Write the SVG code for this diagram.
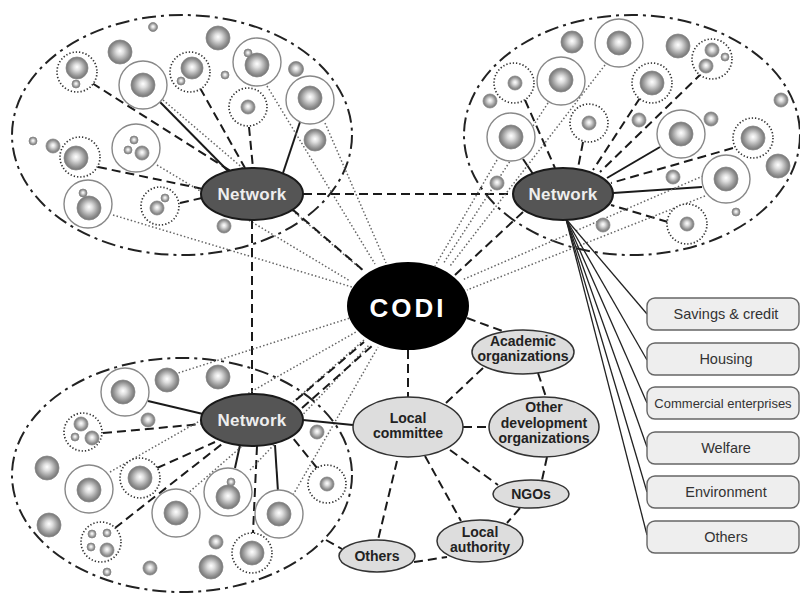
<svg xmlns="http://www.w3.org/2000/svg" width="800" height="595" viewBox="0 0 800 595">
<defs>
<radialGradient id="g" cx="0.5" cy="0.5" r="0.5" fx="0.5" fy="0.45">
<stop offset="0" stop-color="#ffffff"/>
<stop offset="0.3" stop-color="#dedede"/>
<stop offset="0.75" stop-color="#969696"/>
<stop offset="1" stop-color="#747474"/>
</radialGradient>
<style>
.bound{fill:none;stroke:#222;stroke-width:2;stroke-dasharray:14 5 3 5}
.sl{stroke:#1a1a1a;stroke-width:2;fill:none}
.dl{stroke:#1a1a1a;stroke-width:2;stroke-dasharray:9 5;fill:none}
.ol{stroke:#666;stroke-width:1.5;stroke-dasharray:1.5 2.2;fill:none}
.bl{stroke:#222;stroke-width:1.3;fill:none}
.s{fill:url(#g);stroke:#888;stroke-width:0.8}
.r{fill:#fff;stroke:#888;stroke-width:1.4}
.d{fill:#fff;stroke:#333;stroke-width:1.7;stroke-dasharray:1.3 2}
.net{fill:#555;stroke:#1a1a1a;stroke-width:2}
.nt{font-family:"Liberation Sans",Arial,sans-serif;font-weight:bold;font-size:17px;fill:#eee;text-anchor:middle;letter-spacing:0.3px}
.lab{fill:#ddd;stroke:#333;stroke-width:1.5}
.lt{font-family:"Liberation Sans",Arial,sans-serif;font-weight:bold;font-size:14px;fill:#222;text-anchor:middle}
.box{fill:#eee;stroke:#666;stroke-width:1.4}
.bt{font-family:"Liberation Sans",Arial,sans-serif;font-size:14.5px;fill:#333;text-anchor:middle}
</style>
</defs>
<rect width="800" height="595" fill="#fff"/>

<g id="boundaries">
<ellipse class="bound" cx="182" cy="135" rx="170" ry="120"/>
<ellipse class="bound" cx="632" cy="135" rx="168" ry="120"/>
<ellipse class="bound" cx="182" cy="475" rx="170" ry="117"/>
</g>

<g id="connectors">
<line class="sl" x1="160" y1="102" x2="228" y2="171"/>
<line class="sl" x1="300" y1="122" x2="283" y2="173"/>
<line class="dl" x1="92" y1="83" x2="232" y2="172"/>
<line class="dl" x1="200" y1="88" x2="245" y2="168"/>
<line class="dl" x1="249" y1="127" x2="253" y2="168"/>
<line class="dl" x1="98" y1="167" x2="203" y2="189"/>
<line class="dl" x1="180" y1="203" x2="202" y2="198"/>
<line class="ol" x1="267" y1="86" x2="375" y2="264"/>
<line class="ol" x1="325" y1="123" x2="386" y2="263"/>
<line class="ol" x1="113" y1="215" x2="352" y2="287"/>
<line class="ol" x1="163" y1="100" x2="362" y2="270"/>
<line class="ol" x1="157" y1="165" x2="350" y2="281"/>
<line class="dl" x1="292" y1="209" x2="364" y2="271"/>
<line class="dl" x1="303" y1="194" x2="513" y2="194"/>
<line class="dl" x1="252" y1="220" x2="252" y2="394"/>
<line class="sl" x1="523" y1="159" x2="533" y2="174"/>
<line class="sl" x1="660" y1="147" x2="607" y2="178"/>
<line class="sl" x1="702" y1="187" x2="613" y2="193"/>
<line class="dl" x1="525" y1="100" x2="555" y2="168"/>
<line class="dl" x1="583" y1="142" x2="578" y2="168"/>
<line class="dl" x1="640" y1="98" x2="593" y2="170"/>
<line class="dl" x1="702" y1="73" x2="600" y2="172"/>
<line class="dl" x1="733" y1="148" x2="611" y2="183"/>
<line class="dl" x1="668" y1="222" x2="611" y2="205"/>
<line class="ol" x1="605" y1="65" x2="450" y2="266"/>
<line class="ol" x1="548" y1="103" x2="443" y2="264"/>
<line class="ol" x1="497" y1="160" x2="435" y2="266"/>
<line class="ol" x1="703" y1="176" x2="462" y2="280"/>
<line class="ol" x1="705" y1="196" x2="467" y2="290"/>
<line class="dl" x1="523" y1="212" x2="455" y2="275"/>
<line class="sl" x1="148" y1="401" x2="203" y2="414"/>
<line class="sl" x1="235" y1="468" x2="240" y2="445"/>
<line class="sl" x1="278" y1="492" x2="275" y2="445"/>
<line class="dl" x1="103" y1="433" x2="202" y2="424"/>
<line class="dl" x1="157" y1="468" x2="215" y2="442"/>
<line class="dl" x1="115" y1="528" x2="222" y2="444"/>
<line class="dl" x1="257" y1="446" x2="253" y2="533"/>
<line class="dl" x1="317" y1="468" x2="292" y2="437"/>
<line class="ol" x1="175" y1="374" x2="350" y2="318"/>
<line class="ol" x1="110" y1="472" x2="356" y2="332"/>
<line class="ol" x1="187" y1="494" x2="364" y2="340"/>
<line class="ol" x1="293" y1="495" x2="378" y2="347"/>
<line class="ol" x1="250" y1="470" x2="370" y2="344"/>
<line class="dl" x1="296" y1="400" x2="364" y2="342"/>
<line class="dl" x1="302" y1="408" x2="372" y2="346"/>
<line class="sl" x1="303" y1="420" x2="353" y2="425"/>
<line class="dl" x1="408" y1="350" x2="408" y2="397"/>
<line class="dl" x1="467" y1="318" x2="505" y2="332"/>
<line class="dl" x1="446" y1="403" x2="484" y2="367"/>
<line class="dl" x1="538" y1="373" x2="546" y2="397"/>
<line class="dl" x1="463" y1="427" x2="489" y2="427"/>
<line class="dl" x1="547" y1="457" x2="542" y2="480"/>
<line class="dl" x1="450" y1="450" x2="498" y2="485"/>
<line class="dl" x1="520" y1="508" x2="507" y2="523"/>
<line class="dl" x1="425" y1="456" x2="461" y2="521"/>
<line class="dl" x1="397" y1="461" x2="378" y2="540"/>
<line class="dl" x1="414" y1="562" x2="447" y2="557"/>
<line class="dl" x1="326" y1="540" x2="342" y2="549"/>
<line class="bl" x1="566" y1="219" x2="647" y2="314"/>
<line class="bl" x1="566" y1="219" x2="647" y2="360"/>
<line class="bl" x1="566" y1="219" x2="647" y2="403"/>
<line class="bl" x1="566" y1="219" x2="647" y2="447"/>
<line class="bl" x1="566" y1="219" x2="647" y2="492"/>
<line class="bl" x1="566" y1="219" x2="647" y2="535"/>
</g>

<g id="cluster-tl">
<circle class="s" cx="153" cy="27" r="4.5"/>
<circle class="s" cx="120" cy="52" r="12"/>
<circle class="s" cx="218" cy="38" r="12"/>
<circle class="d" cx="77" cy="72" r="20"/><circle class="s" cx="77" cy="68" r="11"/><circle class="s" cx="76" cy="84" r="4"/>
<circle class="r" cx="143" cy="85" r="24"/><circle class="s" cx="143" cy="85" r="12"/>
<circle class="d" cx="190" cy="72" r="20"/><circle class="s" cx="192" cy="68" r="11"/><circle class="s" cx="181" cy="81" r="4"/>
<circle class="r" cx="257" cy="62" r="24"/><circle class="s" cx="257" cy="65" r="12"/><circle class="s" cx="248" cy="53" r="4"/>
<circle class="s" cx="225" cy="75" r="4"/>
<circle class="s" cx="296" cy="69" r="7.5"/>
<circle class="d" cx="248" cy="107" r="19"/><circle class="s" cx="248" cy="107" r="7"/>
<circle class="r" cx="310" cy="100" r="24"/><circle class="s" cx="310" cy="98" r="12"/>
<circle class="s" cx="315" cy="140" r="11"/>
<circle class="s" cx="33" cy="141" r="4"/>
<circle class="s" cx="53" cy="146" r="7"/>
<circle class="d" cx="80" cy="157" r="20"/><circle class="s" cx="76" cy="158" r="12"/>
<circle class="r" cx="136" cy="148" r="24"/><circle class="s" cx="142" cy="153" r="7"/><circle class="s" cx="128" cy="150" r="4"/><circle class="s" cx="134" cy="140" r="4"/>
<circle class="r" cx="88" cy="204" r="24"/><circle class="s" cx="89" cy="208" r="12"/><circle class="s" cx="83" cy="193" r="4"/>
<circle class="d" cx="160" cy="206" r="19"/><circle class="s" cx="157" cy="208" r="7"/><circle class="s" cx="165" cy="198" r="4"/>
<circle class="s" cx="224" cy="226" r="7"/>
</g>

<g id="cluster-tr">
<circle class="s" cx="572" cy="42" r="11"/>
<circle class="r" cx="619" cy="43" r="24"/><circle class="s" cx="619" cy="43" r="12"/>
<circle class="s" cx="678" cy="46" r="12"/>
<circle class="d" cx="712" cy="59" r="20"/><circle class="s" cx="712" cy="50" r="7"/><circle class="s" cx="706" cy="66" r="7"/><circle class="s" cx="725" cy="57" r="4"/>
<circle class="d" cx="514" cy="83" r="20"/><circle class="s" cx="515" cy="83" r="7"/>
<circle class="r" cx="561" cy="81" r="24"/><circle class="s" cx="561" cy="80" r="12"/>
<circle class="s" cx="490" cy="101" r="7"/>
<circle class="d" cx="652" cy="83" r="20"/><circle class="s" cx="652" cy="83" r="12"/>
<circle class="d" cx="589" cy="123" r="19"/><circle class="s" cx="589" cy="123" r="7"/>
<circle class="s" cx="639" cy="120" r="7"/>
<circle class="r" cx="511" cy="137" r="24"/><circle class="s" cx="511" cy="137" r="12"/>
<circle class="r" cx="681" cy="134" r="24"/><circle class="s" cx="681" cy="134" r="12"/>
<circle class="s" cx="711" cy="119" r="7"/>
<circle class="s" cx="781" cy="100" r="7"/>
<circle class="d" cx="753" cy="138" r="20"/><circle class="s" cx="753" cy="138" r="12"/>
<circle class="s" cx="778" cy="166" r="12"/>
<circle class="r" cx="726" cy="179" r="24"/><circle class="s" cx="726" cy="179" r="12"/>
<circle class="s" cx="673" cy="177" r="7"/>
<circle class="s" cx="497" cy="183" r="7"/>
<circle class="s" cx="736" cy="212" r="4"/>
<circle class="s" cx="603" cy="225" r="7"/>
<circle class="d" cx="687" cy="224" r="20"/><circle class="s" cx="687" cy="224" r="7"/>
</g>

<g id="cluster-bl">
<circle class="r" cx="125" cy="392" r="24"/><circle class="s" cx="123" cy="392" r="12"/>
<circle class="s" cx="167" cy="380" r="12"/>
<circle class="s" cx="218" cy="377" r="12"/>
<circle class="s" cx="148" cy="420" r="7"/>
<circle class="d" cx="83" cy="432" r="19"/><circle class="s" cx="81" cy="424" r="7"/><circle class="s" cx="92" cy="438" r="7"/><circle class="s" cx="75" cy="437" r="4"/>
<circle class="s" cx="317" cy="432" r="7"/>
<circle class="s" cx="47" cy="468" r="12"/>
<circle class="r" cx="89" cy="489" r="24"/><circle class="s" cx="89" cy="490" r="12"/>
<circle class="d" cx="140" cy="478" r="20"/><circle class="s" cx="140" cy="478" r="12"/>
<circle class="r" cx="176" cy="513" r="24"/><circle class="s" cx="176" cy="513" r="12"/>
<circle class="r" cx="228" cy="492" r="24"/><circle class="s" cx="228" cy="497" r="12"/><circle class="s" cx="231" cy="482" r="4"/>
<circle class="r" cx="279" cy="514" r="24"/><circle class="s" cx="279" cy="514" r="12"/>
<circle class="d" cx="327" cy="484" r="19"/><circle class="s" cx="327" cy="484" r="7"/>
<circle class="s" cx="49" cy="525" r="12"/>
<circle class="d" cx="101" cy="542" r="20"/><circle class="s" cx="92" cy="534" r="4"/><circle class="s" cx="107" cy="533" r="4"/><circle class="s" cx="91" cy="547" r="4"/><circle class="s" cx="107" cy="550" r="7"/>
<circle class="s" cx="216" cy="542" r="7"/>
<circle class="d" cx="252" cy="553" r="20"/><circle class="s" cx="252" cy="553" r="12"/>
<circle class="s" cx="150" cy="568" r="7"/>
<circle class="s" cx="211" cy="567" r="12"/>
<circle class="s" cx="107" cy="572" r="4"/>
</g>

<g id="network-tl"><ellipse class="net" cx="252" cy="194" rx="51" ry="26"/><text class="nt" x="252" y="200">Network</text></g>
<g id="network-tr"><ellipse class="net" cx="563" cy="194" rx="50" ry="26"/><text class="nt" x="563" y="200">Network</text></g>
<g id="network-bl"><ellipse class="net" cx="252" cy="420" rx="51" ry="26"/><text class="nt" x="252" y="426">Network</text></g>

<g id="codi"><ellipse cx="408" cy="306" rx="61" ry="44" fill="#000"/><text x="408" y="317" font-family="'Liberation Sans',Arial,sans-serif" font-weight="bold" font-size="26" fill="#fff" text-anchor="middle" letter-spacing="3">CODI</text></g>

<g id="local-committee"><ellipse class="lab" cx="408" cy="427" rx="55" ry="30"/><text class="lt" x="408" y="423">Local</text><text class="lt" x="408" y="438">committee</text></g>
<g id="academic"><ellipse class="lab" cx="523" cy="352" rx="51" ry="22"/><text class="lt" x="523" y="346">Academic</text><text class="lt" x="523" y="361">organizations</text></g>
<g id="other-dev"><ellipse class="lab" cx="544" cy="427" rx="55" ry="30"/><text class="lt" x="544" y="412">Other</text><text class="lt" x="544" y="428">development</text><text class="lt" x="544" y="443">organizations</text></g>
<g id="ngos"><ellipse class="lab" cx="531" cy="494" rx="38" ry="14"/><text class="lt" x="531" y="499">NGOs</text></g>
<g id="local-authority"><ellipse class="lab" cx="480" cy="541" rx="43" ry="21"/><text class="lt" x="480" y="537">Local</text><text class="lt" x="480" y="552">authority</text></g>
<g id="others-org"><ellipse class="lab" cx="377" cy="556" rx="38" ry="16"/><text class="lt" x="377" y="561">Others</text></g>

<g id="box-savings"><rect class="box" x="647" y="298" width="152" height="32" rx="8"/><text class="bt" x="726" y="319">Savings &amp; credit</text></g>
<g id="box-housing"><rect class="box" x="647" y="343" width="152" height="32" rx="8"/><text class="bt" x="726" y="364">Housing</text></g>
<g id="box-commercial"><rect class="box" x="647" y="387" width="152" height="32" rx="8"/><text class="bt" x="723" y="408" style="font-size:13px">Commercial enterprises</text></g>
<g id="box-welfare"><rect class="box" x="647" y="432" width="152" height="32" rx="8"/><text class="bt" x="726" y="453">Welfare</text></g>
<g id="box-environment"><rect class="box" x="647" y="476" width="152" height="32" rx="8"/><text class="bt" x="726" y="497">Environment</text></g>
<g id="box-others"><rect class="box" x="647" y="521" width="152" height="32" rx="8"/><text class="bt" x="726" y="542">Others</text></g>
</svg>
